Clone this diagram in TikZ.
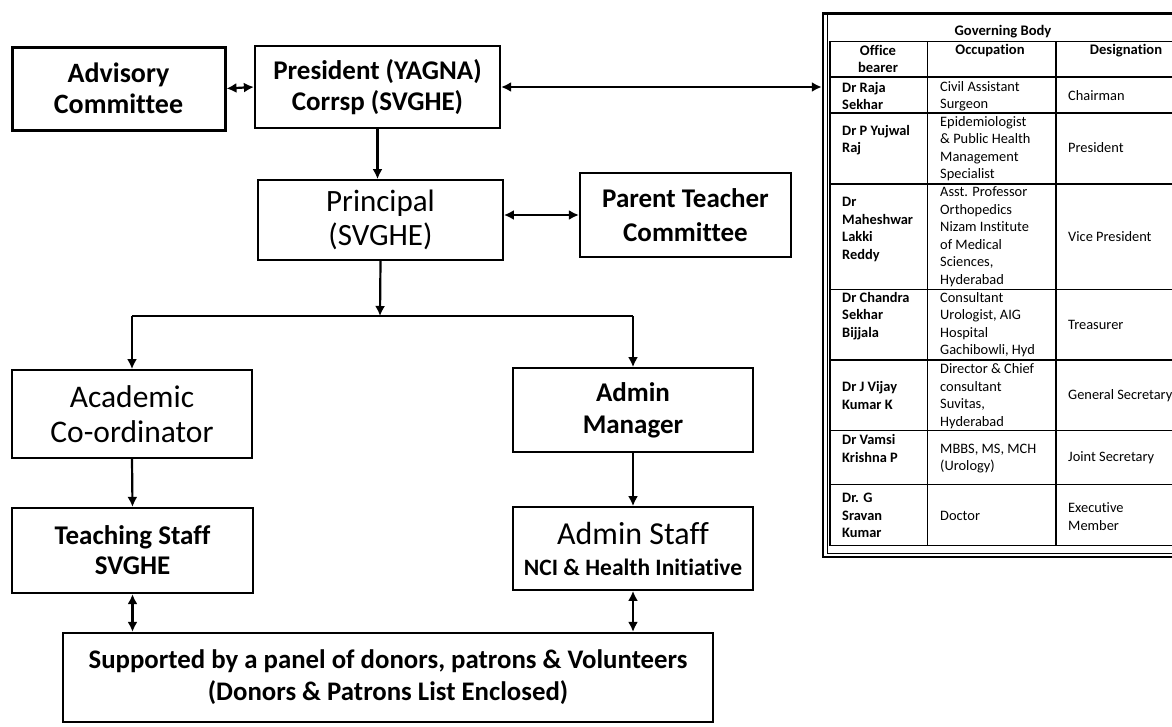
\documentclass[tikz,border=0pt]{standalone}
\usepackage{fontspec}
\setmainfont{Carlito}[Ligatures=NoCommon]
\usetikzlibrary{arrows.meta}

\tikzset{
  box/.style={draw, line width=2.2pt, align=center, inner sep=0pt},
  conn/.style={line width=2.2pt, -{Latex[length=10pt,width=10pt]}},
  biconn/.style={line width=2.2pt, {Latex[length=10pt,width=10pt]}-{Latex[length=10pt,width=10pt]}},
  cell/.style={anchor=west, align=left, inner sep=0pt, font=\fontsize{14.4}{17.5}\selectfont},
  namecell/.style={cell, font=\bfseries\fontsize{14.4}{17.5}\selectfont},
  headcell/.style={anchor=center, align=center, inner sep=0pt, font=\bfseries\fontsize{14.6}{17.5}\selectfont},
  rule/.style={line width=1.3pt},
}

\begin{document}
\begin{tikzpicture}[x=1pt,y=1pt,yscale=-1,xscale=1]
\useasboundingbox (0,0) rectangle (1172,726);

%Shape: Rectangle
\draw (118.5,88.5) node (adv) [box, line width=3pt, minimum width=213pt, minimum height=83pt, font=\bfseries\fontsize{28}{31}\selectfont] {Advisory\\Committee};
%Shape: Rectangle
\draw (377.5,87) node (pres) [box, minimum width=245pt, minimum height=82pt, font=\bfseries\fontsize{27}{31}\selectfont] {President (YAGNA)\\Corrsp (SVGHE)};
%Shape: Rectangle
\draw (380.5,220) node (prin) [box, line width=1.8pt, minimum width=245pt, minimum height=80pt, font=\fontsize{31}{34}\selectfont] {Principal\\(SVGHE)};
%Shape: Rectangle
\draw (685.5,215) node (ptc) [box, minimum width=211pt, minimum height=84pt, font=\bfseries\fontsize{27}{34}\selectfont] {Parent Teacher\\Committee};
%Shape: Rectangle
\draw (132,414) node (acad) [box, line width=1.8pt, minimum width=240pt, minimum height=88pt, font=\fontsize{31.5}{35}\selectfont] {Academic\\Co-ordinator};
%Shape: Rectangle
\draw (633,410) node (mgr) [box, line width=1.8pt, minimum width=240pt, minimum height=84pt, font=\bfseries\fontsize{27}{32}\selectfont] {Admin\\Manager};
%Shape: Rectangle
\draw (132.5,550.5) node (teach) [box, minimum width=241pt, minimum height=85pt, font=\bfseries\fontsize{27}{30}\selectfont] {Teaching Staff\\SVGHE};
%Shape: Rectangle
\draw (633,548.5) node (astaff) [box, line width=1.8pt, minimum width=240pt, minimum height=83pt, font=\bfseries\fontsize{23.5}{31}\selectfont] {{\mdseries\fontsize{32}{31}\selectfont Admin Staff}\\NCI \& Health Initiative};
%Shape: Rectangle
\draw (388,677.5) node (supp) [box, minimum width=650pt, minimum height=89pt, font=\bfseries\fontsize{26.8}{32}\selectfont] {Supported by a panel of donors, patrons \& Volunteers\\(Donors \& Patrons List Enclosed)};

%Shape: Rectangle
\draw (1004,285.25) node (govbody) [draw, line width=2.5pt, minimum width=362pt, minimum height=543.5pt, inner sep=0pt] {};
\draw [line width=1pt] (827,14) -- (827,553.5) -- (1180,553.5) ;

%Straight Lines
\draw [biconn] (adv.east) -- (pres.west) ;
\draw [biconn] (pres.east) -- (pres.east -| govbody.west) ;
\draw [conn] (pres.south) -- (pres.south |- prin.north) ;
\draw [biconn] (ptc.west -| prin.east) -- (ptc.west) ;

\coordinate (split) at (380,316) ;
\draw [conn] (prin.south) -- (split) ;
\draw [line width=2.2pt] (acad.north |- split) -- (mgr.north |- split) ;
\draw [conn] (acad.north |- split) -- (acad.north) ;
\draw [conn] (mgr.north |- split) -- (mgr.north) ;
\draw [conn] (acad.south) -- (teach.north) ;
\draw [conn] (mgr.south) -- (astaff.north) ;
\draw [biconn] (teach.south) -- (teach.south |- supp.north) ;
\draw [biconn] (astaff.south) -- (astaff.south |- supp.north) ;

%Table grid
\draw [rule] (830,41.5) rectangle (1180,545.5) ;
\draw [rule] (830,77) -- (1180,77) ;
\draw [rule] (830,113) -- (1180,113) ;
\draw [rule] (830,184) -- (1180,184) ;
\draw [rule] (830,289.5) -- (1180,289.5) ;
\draw [rule] (830,360) -- (1180,360) ;
\draw [rule] (830,430.5) -- (1180,430.5) ;
\draw [rule] (830,484.5) -- (1180,484.5) ;
\draw [rule] (927.5,41.5) -- (927.5,545.5) ;
\draw [rule] (1056,41.5) -- (1056,545.5) ;

% Text Node
\draw (1003,32) node (gbtitle) [headcell] {Governing Body};
\draw (878,59) node (hoffice) [headcell] {Office\\bearer};
\draw (990,51) node (hocc) [headcell] {Occupation};
\draw (1126,51) node (hdes) [headcell] {Designation};

% Text Node
\draw (842,96) node (name1) [namecell] {Dr Raja\\Sekhar};
\draw (842,140) node (name2) [namecell] {Dr P Yujwal\\Raj};
\draw (842,229.5) node (name3) [namecell] {Dr\\Maheshwar\\Lakki\\Reddy};
\draw (842,316) node (name4) [namecell] {Dr Chandra\\Sekhar\\Bijjala};
\draw (842,395.5) node (name5) [namecell] {Dr J Vijay\\Kumar K};
\draw (842,448.5) node (name6) [namecell] {Dr Vamsi\\Krishna P};
\draw (842,515.5) node (name7) [namecell] {Dr. G\\Sravan\\Kumar};

% Text Node
\draw (940,96) node (occ1) [cell] {Civil Assistant\\Surgeon};
\draw (940,148.5) node (occ2) [cell] {Epidemiologist\\\& Public Health\\Management\\Specialist};
\draw (940,236.5) node (occ3) [cell] {Asst. Professor\\Orthopedics\\Nizam Institute\\of Medical\\Sciences,\\Hyderabad};
\draw (940,324.5) node (occ4) [cell] {Consultant\\Urologist, AIG\\Hospital\\Gachibowli, Hyd};
\draw (940,396) node (occ5) [cell] {Director \& Chief\\consultant\\Suvitas,\\Hyderabad};
\draw (940,458.5) node (occ6) [cell] {MBBS, MS, MCH\\(Urology)};
\draw (940,516) node (occ7) [cell] {Doctor};

% Text Node
\draw (1068,96) node (des1) [cell] {Chairman};
\draw (1068,148) node (des2) [cell] {President};
\draw (1068,237) node (des3) [cell] {Vice President};
\draw (1068,325) node (des4) [cell] {Treasurer};
\draw (1068,396) node (des5) [cell] {General Secretary};
\draw (1068,458) node (des6) [cell] {Joint Secretary};
\draw (1068,516.5) node (des7) [cell] {Executive\\Member};

\end{tikzpicture}
\end{document}
